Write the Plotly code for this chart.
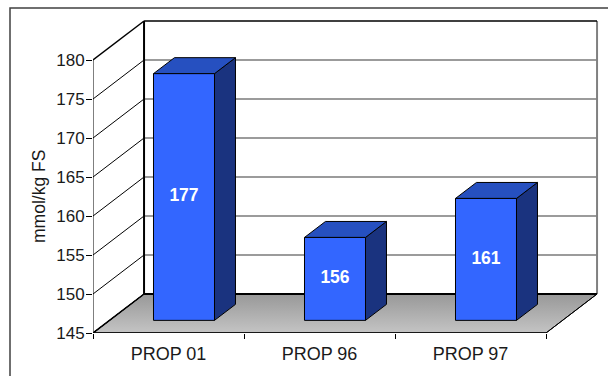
import plotly.graph_objects as go

# Chart data
categories = ["PROP 01", "PROP 96", "PROP 97"]
values = [177, 156, 161]
y_ticks = [145, 150, 155, 160, 165, 170, 175, 180]
y_title = "mmol/kg FS"

# Pseudo-3D box geometry, in axis units
Y_MIN, Y_MAX = 145, 180
WALL_DX, WALL_DY = 0.338, 5.0        # shift from front plane to back wall
BAR_DX, BAR_DY = 0.139, 2.05         # box depth
BAR_OFF_X, BAR_OFF_Y = 0.1026, 1.25  # shift of the box from the front plane
BAR_HALF = 0.202
BAR_BASE = 145.37
N = len(categories)

FONT = "Liberation Sans, Arial, sans-serif"
TEXT = "#1a1a1a"
FRONT, TOP, SIDE = "#3366ff", "#2650c0", "#1a337f"

fig = go.Figure()


def line(xs, ys, color="black", width=1):
    fig.add_trace(go.Scatter(x=xs, y=ys, mode="lines", hoverinfo="skip",
                             line=dict(color=color, width=width), cliponaxis=False))


def face(xs, ys, color):
    fig.add_trace(go.Scatter(x=xs + xs[:1], y=ys + ys[:1], mode="lines", fill="toself",
                             fillcolor=color, hoverinfo="skip",
                             line=dict(color="black", width=1), cliponaxis=False))


# Floor with its vertical grey gradient, lighter towards the back
fig.add_trace(go.Scatter(
    x=[0, N, N + WALL_DX, WALL_DX, 0],
    y=[Y_MIN, Y_MIN, Y_MIN + WALL_DY, Y_MIN + WALL_DY, Y_MIN],
    mode="lines", fill="toself", hoverinfo="skip", cliponaxis=False,
    line=dict(color="black", width=1),
    fillgradient=dict(type="vertical", colorscale=[[0, "#c4c4c4"], [1, "#989898"]]),
))

# Side-wall and back-wall gridlines
for v in y_ticks[1:-1]:
    line([WALL_DX, N + WALL_DX], [v + WALL_DY] * 2, color="#7a7a7a", width=1.5)
for v in y_ticks[:-1]:
    line([0, WALL_DX], [v, v + WALL_DY], width=1)

# Wall outlines
top = Y_MAX + WALL_DY
floor = Y_MIN + WALL_DY
line([N + WALL_DX, N + WALL_DX], [floor, top], color="#808080", width=2)
line([WALL_DX, N + WALL_DX], [top, top], width=1.5)
line([WALL_DX, N + WALL_DX], [floor, floor], width=2.2)
line([WALL_DX, WALL_DX], [floor, top], width=2)
line([0, WALL_DX], [Y_MAX, top], width=1.5)
line([0, 0], [Y_MIN, Y_MAX], width=1)
line([0, N], [Y_MIN, Y_MIN], width=1.5)
line([0, WALL_DX], [Y_MIN, floor], width=1.5)
line([N, N + WALL_DX], [Y_MIN, floor], width=1)

# Boxes
for i, v in enumerate(values):
    cx = i + 0.5 + BAR_OFF_X
    x0, x1 = cx - BAR_HALF, cx + BAR_HALF
    y0 = BAR_BASE
    y1 = v + BAR_OFF_Y
    y_low = y0 + BAR_OFF_Y
    face([x1, x1 + BAR_DX, x1 + BAR_DX, x1],
         [y_low, y_low + BAR_DY, y1 + BAR_DY, y1], SIDE)
    face([x0, x1, x1 + BAR_DX, x0 + BAR_DX],
         [y1, y1, y1 + BAR_DY, y1 + BAR_DY], TOP)
    face([x0, x1, x1, x0], [y_low, y_low, y1, y1], FRONT)
    fig.add_trace(go.Scatter(x=[cx], y=[(y_low + y1) / 2], mode="text", text=[str(v)],
                             textposition="middle center", hoverinfo="skip",
                             textfont=dict(family=FONT, size=17.5, color="white", weight="bold")))

fig.update_layout(
    width=608, height=376,
    margin=dict(l=93, r=0, t=10, b=43),
    paper_bgcolor="white", plot_bgcolor="white",
    showlegend=False,
    xaxis=dict(
        range=[0, 515 / 151],
        tickmode="array",
        tickvals=[i + 0.5 for i in range(N)],
        ticktext=categories,
        ticks="outside", ticklen=4, tickcolor="rgba(0,0,0,0)",
        minor=dict(tickmode="array", tickvals=list(range(N + 1)), ticks="outside",
                   ticklen=5, tickcolor="black", tickwidth=1),
        showgrid=False, zeroline=False, showline=False,
        tickfont=dict(family=FONT, size=18, color=TEXT),
    ),
    yaxis=dict(
        range=[145, 145 + 323 / 7.8],
        tickmode="array",
        tickvals=y_ticks,
        ticks="outside", ticklen=6, tickcolor="black", tickwidth=1,
        ticklabelstandoff=-2,
        showgrid=False, zeroline=False, showline=False,
        tickfont=dict(family=FONT, size=17, color=TEXT),
    ),
    shapes=[dict(type="rect", xref="paper", yref="paper",
                 x0=(10 - 93) / 515, x1=1.05, y0=(333 - 400) / 323, y1=(333 - 8) / 323,
                 line=dict(color="#404040", width=1.5), fillcolor="rgba(0,0,0,0)",
                 layer="below")],
    annotations=[dict(text=y_title, textangle=-90, showarrow=False,
                      xref="paper", yref="paper",
                      x=(39 - 93) / 515, y=(333 - 197) / 323,
                      xanchor="center", yanchor="middle",
                      font=dict(family=FONT, size=17.5, color=TEXT))],
)

fig.write_html("out.html", config=dict(displayModeBar=False))
